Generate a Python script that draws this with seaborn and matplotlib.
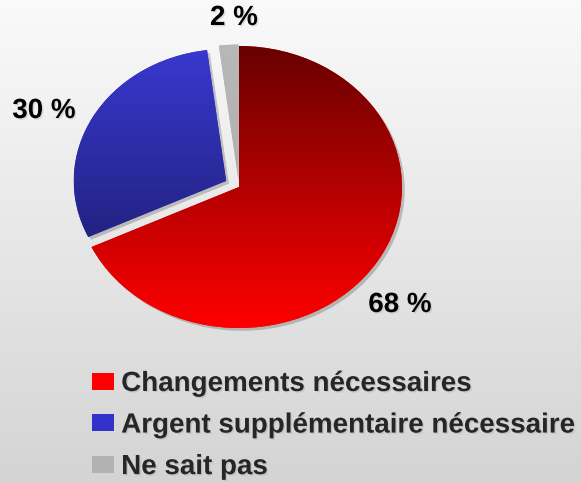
import numpy as np
import matplotlib
matplotlib.use("Agg")
import matplotlib.pyplot as plt
import seaborn as sns
from matplotlib.colors import LinearSegmentedColormap
import matplotlib.patheffects as pe

# ---- data ----
categories = ["Changements nécessaires", "Argent supplémentaire nécessaire", "Ne sait pas"]
values = [68, 30, 2]
pct_labels = [f"{v} %" for v in values]
legend_colors = ["#ff0000", "#3333cc", "#b2b2b2"]
grad_top = ["#680000", "#3838d0", "#b8b8b8"]
grad_bottom = ["#ff0000", "#1a1a62", "#a8a8a8"]

sns.set_theme(style="white")
plt.rcParams["font.family"] = ["Liberation Sans", "DejaVu Sans"]

W, H = 581, 483
fig = plt.figure(figsize=(W / 100, H / 100), dpi=100)

# background gradient
bg = fig.add_axes([0, 0, 1, 1], zorder=0)
grad = np.linspace(0, 1, 256).reshape(-1, 1)
bg_cmap = LinearSegmentedColormap.from_list("bg", ["#fafafa", "#d4d4d4"])
bg.imshow(grad, aspect="auto", cmap=bg_cmap, extent=(0, 1, 0, 1), origin="upper")
bg.set_axis_off()

ax = fig.add_axes([0, 0, 1, 1], zorder=1)
ax.patch.set_alpha(0)
wedges, _ = ax.pie(values, colors=legend_colors, startangle=90, counterclock=False,
                   explode=[0, 0.09, 0.05], radius=1,
                   wedgeprops=dict(linewidth=0))
# slight size difference like the reference
wedges[1].set_radius(0.935)
wedges[2].set_radius(0.96)

for i, w in enumerate(wedges):
    w.set_path_effects([pe.SimplePatchShadow(offset=(2, -2), shadow_rgbFace="#000000", alpha=0.2),
                        pe.Normal()])
    cx, cy = w.center
    r = w.r
    cmap = LinearSegmentedColormap.from_list(f"g{i}", [grad_top[i], grad_bottom[i]])
    im = ax.imshow(grad, aspect="auto", cmap=cmap, extent=(cx - r, cx + r, cy - r, cy + r),
                   origin="upper", zorder=w.get_zorder() + 0.1)
    im.set_clip_path(w)

cxp, cyp, rx, ry = 239, 187, 163, 141
ax.set_aspect("auto")
ax.set_xlim(-cxp / rx, (W - cxp) / rx)
ax.set_ylim(-(H - cyp) / ry, cyp / ry)
ax.set_axis_off()

shadow = [pe.withSimplePatchShadow(offset=(1, -1), shadow_rgbFace="#999999", alpha=0.3)]
label_pos = [(400, 305), (44, 111), (234, 18)]
for txt, (px, py) in zip(pct_labels, label_pos):
    fig.text(px / W, 1 - py / H, txt, ha="center", va="center", fontsize=20,
             fontweight="bold", color="black", path_effects=shadow)

handles = [plt.Rectangle((0, 0), 1, 1, facecolor=c, edgecolor="none") for c in legend_colors]
leg = fig.legend(handles, categories, loc="upper left",
                 bbox_to_anchor=(92 / W, 1 - 371 / H), frameon=False,
                 prop=dict(size=20, weight="bold"), handlelength=0.8, handleheight=0.58,
                 handletextpad=0.25, labelspacing=0.56, borderpad=0, borderaxespad=0)
for t in leg.get_texts():
    t.set_path_effects(shadow)

fig.savefig("out.png", dpi=100)
